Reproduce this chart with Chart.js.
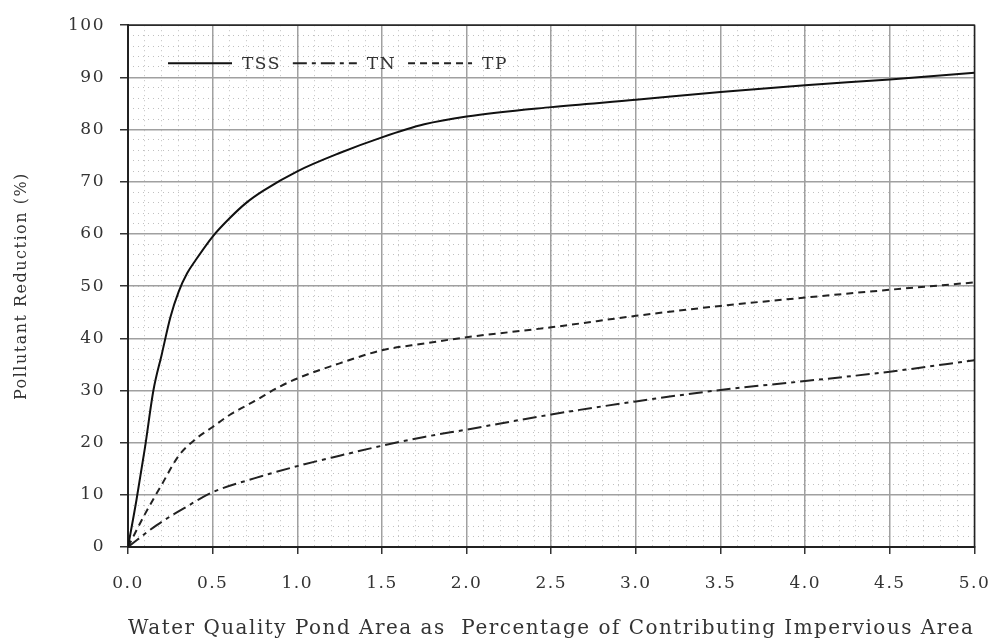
<!DOCTYPE html>
<html>
<head>
<meta charset="utf-8">
<script src="https://cdn.jsdelivr.net/npm/chart.js@4/dist/chart.umd.min.js"></script>
<style>
  body { margin: 0; background: #fff; }
  #wrap { width: 1007px; height: 644px; position: relative; }
</style>
</head>
<body>
<div id="wrap"><canvas id="grafico"></canvas></div>
<script>
// valores
const tssArea = [0, 0.05, 0.1, 0.15, 0.2, 0.25, 0.3, 0.35, 0.4, 0.5, 0.6, 0.7, 0.8, 1.0, 1.25, 1.5, 1.75, 2.0, 2.5, 3.0, 3.5, 4.0, 4.5, 5.0];
const tssReducao = [0, 9, 19, 30, 37, 44, 49, 52.5, 55, 59.5, 63, 66, 68.3, 72, 75.5, 78.5, 81, 82.5, 84.3, 85.7, 87.2, 88.5, 89.6, 90.9];

const tnArea = [0, 0.17, 0.35, 0.5, 0.75, 1.0, 1.25, 1.5, 1.75, 2.0, 2.5, 3.0, 3.5, 4.0, 4.5, 5.0];
const tnReducao = [0, 4.2, 7.8, 10.5, 13.2, 15.5, 17.5, 19.4, 21.1, 22.5, 25.4, 27.9, 30.1, 31.8, 33.6, 35.8];

const tpArea = [0, 0.1, 0.2, 0.3, 0.4, 0.5, 0.6, 0.75, 0.9, 1.0, 1.25, 1.5, 1.75, 2.0, 2.5, 3.0, 3.5, 4.0, 4.5, 5.0];
const tpReducao = [0, 6.3, 12, 17.5, 20.7, 23, 25.3, 28, 30.8, 32.3, 35.2, 37.7, 39, 40.2, 42.1, 44.3, 46.2, 47.8, 49.3, 50.7];

const series = ["TSS", "TN", "TP"];

const fonte = "'DejaVu Serif', serif";
const corTexto = "#333";

function pares(xs, ys) {
  return xs.map((x, i) => ({ x: x, y: ys[i] }));
}

// texto do original é bem espaçado
const espacamento = {
  id: "espacamento",
  beforeDraw(chart) {
    chart.ctx.letterSpacing = "1.5px";
  }
};

// moldura em volta da área do gráfico
const moldura = {
  id: "moldura",
  beforeDatasetsDraw(chart) {
    const a = chart.chartArea;
    const ctx = chart.ctx;
    ctx.save();
    ctx.strokeStyle = "#222";
    ctx.lineWidth = 1.5;
    ctx.strokeRect(a.left, a.top, a.right - a.left, a.bottom - a.top);
    ctx.restore();
  }
};

// legenda dentro da área, em linha
const legendaInterna = {
  id: "legendaInterna",
  afterDatasetsDraw(chart) {
    const a = chart.chartArea;
    const ctx = chart.ctx;
    let x = a.left + 40;
    const y = a.top + 38;
    ctx.save();
    ctx.font = "17px " + fonte;
    ctx.textBaseline = "middle";
    chart.data.datasets.forEach(ds => {
      ctx.strokeStyle = ds.borderColor;
      ctx.lineWidth = ds.borderWidth;
      ctx.setLineDash(ds.borderDash || []);
      ctx.beginPath();
      ctx.moveTo(x, y);
      ctx.lineTo(x + 64, y);
      ctx.stroke();
      ctx.setLineDash([]);
      ctx.fillStyle = corTexto;
      ctx.fillText(ds.label, x + 74, y + 1);
      x += 74 + ctx.measureText(ds.label).width + 12;
    });
    ctx.restore();
  }
};

const ctx = document.getElementById("grafico");
new Chart(ctx, {
  type: "scatter",
  data: {
    datasets: [
      {
        label: series[0],
        data: pares(tssArea, tssReducao),
        borderColor: "#111",
        borderWidth: 2,
        showLine: true,
        pointRadius: 0,
        cubicInterpolationMode: "monotone"
      },
      {
        label: series[1],
        data: pares(tnArea, tnReducao),
        borderColor: "#222",
        borderWidth: 2,
        borderDash: [14, 5, 4, 5],
        showLine: true,
        pointRadius: 0,
        cubicInterpolationMode: "monotone"
      },
      {
        label: series[2],
        data: pares(tpArea, tpReducao),
        borderColor: "#222",
        borderWidth: 2,
        borderDash: [7, 5],
        showLine: true,
        pointRadius: 0,
        cubicInterpolationMode: "monotone"
      }
    ]
  },
  options: {
    responsive: true,
    maintainAspectRatio: false,
    animation: false,
    layout: { padding: { left: 0, right: 23, top: 20, bottom: 0 } },
    plugins: {
      legend: { display: false },
      tooltip: { enabled: false }
    },
    scales: {
      x: {
        type: "linear",
        min: 0,
        max: 5,
        afterFit: s => { s.height = 97; },
        ticks: {
          stepSize: 0.5,
          autoSkip: false,
          maxRotation: 0,
          padding: 19,
          color: corTexto,
          font: { family: fonte, size: 17 },
          callback: v => v.toFixed(1)
        },
        grid: { color: "#a0a0a0", lineWidth: 1.5, tickLength: 7, tickColor: "#333" },
        border: { color: "#222", width: 2 },
        title: {
          display: true,
          text: "Water Quality Pond Area as  Percentage of Contributing Impervious Area",
          color: corTexto,
          font: { family: fonte, size: 20 },
          padding: { top: 0, bottom: 3 }
        }
      },
      xMenor: {
        type: "linear",
        position: "bottom",
        min: 0,
        max: 5,
        ticks: { display: false, stepSize: 0.1, autoSkip: false },
        grid: { color: "#c0c0c0", lineWidth: 1, drawTicks: false, z: -2 },
        border: { display: false, dash: [1, 4] }
      },
      y: {
        type: "linear",
        min: 0,
        max: 100,
        afterFit: s => { s.width = 128; },
        ticks: {
          stepSize: 10,
          padding: 15,
          color: corTexto,
          font: { family: fonte, size: 17 }
        },
        grid: { color: "#a0a0a0", lineWidth: 1.5, tickLength: 8, tickColor: "#333" },
        border: { color: "#222", width: 2 },
        title: {
          display: true,
          text: "Pollutant Reduction (%)",
          color: corTexto,
          font: { family: fonte, size: 16 },
          padding: { top: 12, bottom: 0 }
        }
      },
      yMenor: {
        type: "linear",
        position: "left",
        min: 0,
        max: 100,
        ticks: { display: false, stepSize: 2, autoSkip: false },
        grid: { color: "#c0c0c0", lineWidth: 1, drawTicks: false, z: -2 },
        border: { display: false, dash: [1, 4] }
      }
    }
  },
  plugins: [espacamento, moldura, legendaInterna]
});
</script>
</body>
</html>
